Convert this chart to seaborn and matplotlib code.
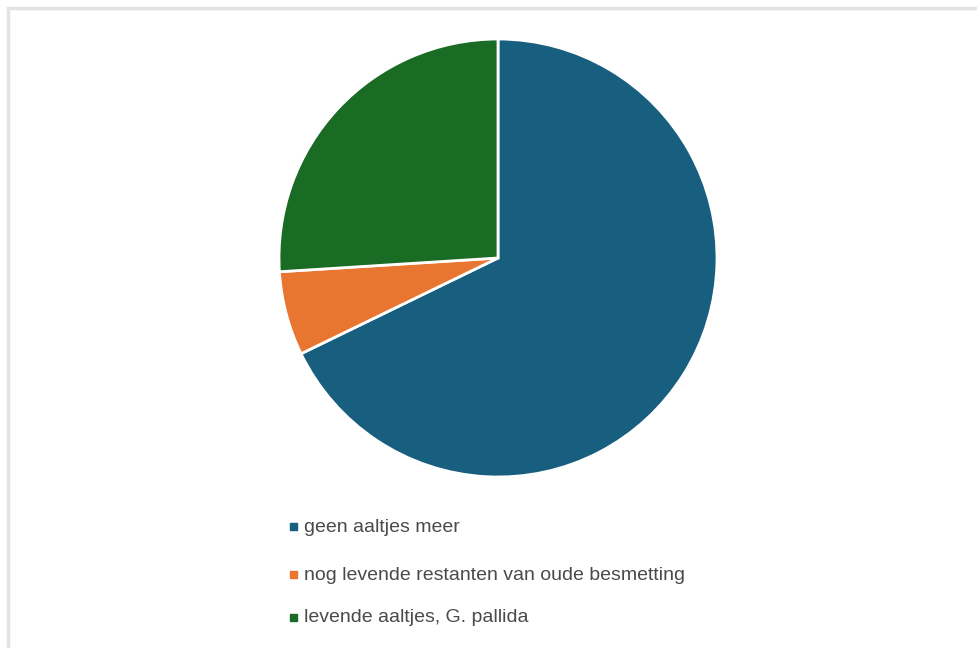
import matplotlib
matplotlib.use("Agg")
import matplotlib.pyplot as plt
from matplotlib.patches import Rectangle
import seaborn as sns

# share of fields (percent)
labels = ["geen aaltjes meer",
          "nog levende restanten van oude besmetting",
          "levende aaltjes, G. pallida"]
shares = [67.8, 6.2, 26.0]
colors = ["#175e7f", "#e87530", "#1a6b24"]

sns.set_theme(style="white")
plt.rcParams["font.family"] = ["Liberation Sans", "DejaVu Sans"]

W, H = 977, 648
fig = plt.figure(figsize=(W / 100, H / 100), dpi=100)
fig.patch.set_facecolor("white")

# light frame, only left and top edges fall inside the picture
fig.patches.append(Rectangle((8 / W, -0.1), 1.2, (H - 8) / H + 0.1,
                             transform=fig.transFigure, fill=False,
                             edgecolor="#e3e3e3", linewidth=2.5))

# pie centre (498, 258) px, radius 219 px
cx, cy, r = 498, 258, 219
ax = fig.add_axes([(cx - r) / W, (H - cy - r) / H, 2 * r / W, 2 * r / H])
ax.pie(shares, colors=colors, startangle=90, counterclock=False,
       wedgeprops=dict(edgecolor="white", linewidth=2))
ax.set_xlim(-1, 1)
ax.set_ylim(-1, 1)
ax.set_aspect("equal")
ax.axis("off")

# legend rows
rows_y = [527, 575, 618]
for lab, col, y in zip(labels, colors, rows_y):
    fig.patches.append(Rectangle((290 / W, (H - y - 3) / H), 7 / W, 7 / H,
                                 transform=fig.transFigure, color=col))
    fig.text(304 / W, (H - y) / H, lab, fontsize=14, color="#4a4a4a",
             va="center", ha="left")

fig.savefig("out.png", dpi=100)
